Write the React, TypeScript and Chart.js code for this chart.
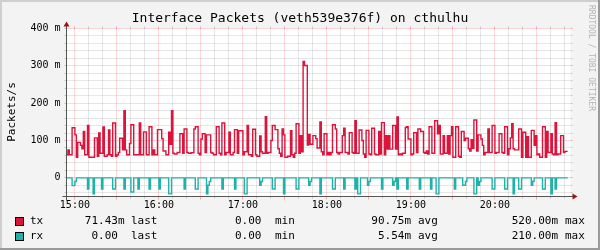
import React, { useEffect, useRef } from 'react';
import { Chart, registerables } from 'chart.js';

Chart.register(...registerables);

// ---- data ----
const titleText = 'Interface Packets (veth539e376f) on cthulhu';
const yAxisTitle = 'Packets/s';
const watermark = 'RRDTOOL / TOBI OETIKER';
const startTime = '14:54'; // first sample (1 minute steps)
const spanMinutes = 360;
const xTickLabels = ['15:00', '16:00', '17:00', '18:00', '19:00', '20:00'];
const yTickValues = [0, 100, 200, 300, 400];
const yTickLabels = ['0', '100 m', '200 m', '300 m', '400 m'];
const yMin = -50;
const yMax = 400;

// tx packets/s in milli units, one value per minute
const txValues = [
  62, 62, 75, 62, 62, 134, 134, 115, 55, 95,
  95, 87, 78, 124, 62, 62, 140, 55, 55, 55,
  55, 107, 107, 58, 120, 66, 66, 136, 58, 58,
  62, 128, 62, 58, 147, 147, 58, 62, 68, 106,
  106, 75, 180, 75, 62, 62, 92, 142, 142, 62,
  62, 62, 62, 147, 62, 62, 123, 123, 62, 62,
  137, 137, 62, 75, 62, 62, 129, 129, 129, 105,
  72, 72, 62, 62, 122, 90, 180, 66, 64, 64,
  68, 68, 118, 118, 66, 131, 131, 68, 66, 66,
  67, 67, 131, 137, 137, 66, 62, 104, 118, 118,
  68, 115, 115, 115, 68, 66, 62, 62, 137, 137,
  66, 62, 147, 147, 62, 68, 68, 122, 62, 62,
  68, 129, 129, 66, 126, 126, 126, 62, 70, 70,
  140, 62, 62, 58, 130, 130, 62, 58, 58, 112,
  70, 66, 66, 164, 66, 68, 68, 100, 140, 140,
  129, 129, 78, 66, 58, 131, 115, 55, 55, 58,
  58, 126, 62, 55, 66, 145, 145, 66, 113, 70,
  312, 301, 301, 88, 116, 90, 90, 113, 113, 105,
  80, 80, 150, 70, 62, 118, 118, 62, 68, 62,
  68, 142, 142, 131, 68, 64, 68, 68, 113, 133,
  68, 68, 64, 121, 121, 68, 66, 153, 66, 66,
  128, 128, 100, 64, 55, 127, 127, 64, 62, 133,
  133, 64, 62, 62, 124, 64, 148, 148, 62, 113,
  77, 113, 77, 77, 140, 140, 77, 163, 62, 64,
  62, 66, 66, 135, 137, 104, 104, 62, 64, 121,
  121, 68, 131, 131, 124, 124, 68, 66, 72, 64,
  137, 137, 66, 66, 153, 153, 118, 140, 64, 64,
  113, 66, 66, 113, 64, 113, 137, 55, 55, 137,
  137, 58, 55, 124, 124, 100, 106, 106, 78, 72,
  102, 79, 155, 155, 72, 115, 115, 104, 87, 62,
  68, 68, 131, 68, 68, 140, 140, 66, 68, 68,
  118, 118, 68, 66, 137, 137, 62, 78, 107, 145,
  78, 75, 75, 75, 131, 131, 55, 122, 122, 55,
  110, 55, 55, 127, 127, 87, 113, 62, 64, 55,
  55, 137, 137, 55, 124, 68, 68, 118, 64, 62,
  148, 62, 64, 64, 113, 113, 68, 71,
];

// rx packets/s in milli units (drawn mirrored below zero)
const rxValues = [
  0, 0, 0, 0, 0, 21, 21, 10, 0, 0,
  0, 0, 0, 0, 0, 0, 30, 0, 0, 0,
  43, 0, 0, 0, 0, 0, 30, 0, 0, 0,
  0, 0, 0, 0, 30, 30, 0, 0, 0, 0,
  0, 0, 30, 0, 0, 0, 0, 38, 38, 0,
  0, 0, 30, 0, 0, 0, 0, 0, 0, 0,
  30, 0, 0, 0, 0, 0, 0, 30, 0, 0,
  0, 0, 0, 0, 43, 43, 0, 0, 0, 0,
  0, 0, 0, 0, 0, 30, 0, 0, 0, 0,
  0, 0, 0, 30, 30, 0, 0, 0, 0, 0,
  0, 43, 20, 10, 0, 0, 0, 0, 0, 0,
  0, 0, 30, 0, 0, 0, 0, 0, 0, 0,
  0, 30, 0, 0, 0, 0, 0, 0, 43, 43,
  0, 0, 0, 0, 0, 0, 0, 0, 0, 20,
  10, 0, 0, 0, 0, 0, 0, 0, 30, 30,
  0, 0, 0, 0, 0, 0, 43, 0, 0, 0,
  0, 0, 0, 0, 0, 30, 30, 0, 0, 0,
  0, 0, 0, 0, 20, 10, 0, 0, 0, 0,
  0, 0, 43, 0, 0, 0, 0, 0, 0, 0,
  0, 30, 30, 0, 0, 0, 0, 0, 0, 30,
  0, 0, 0, 0, 0, 0, 0, 30, 0, 43,
  43, 0, 0, 0, 0, 0, 20, 10, 0, 0,
  0, 0, 0, 0, 0, 0, 30, 0, 0, 0,
  0, 0, 0, 0, 20, 10, 0, 30, 0, 0,
  0, 0, 0, 0, 30, 0, 0, 0, 0, 0,
  0, 0, 0, 30, 0, 0, 0, 0, 0, 0,
  0, 30, 0, 0, 0, 43, 43, 0, 0, 0,
  0, 0, 0, 0, 0, 0, 0, 0, 30, 0,
  0, 0, 0, 0, 20, 20, 10, 0, 0, 0,
  0, 0, 43, 43, 0, 20, 10, 0, 0, 0,
  0, 0, 0, 0, 0, 30, 30, 0, 0, 0,
  0, 0, 0, 0, 30, 30, 0, 0, 0, 0,
  43, 0, 0, 0, 30, 30, 0, 0, 0, 0,
  0, 0, 0, 20, 10, 0, 0, 0, 0, 0,
  0, 30, 30, 0, 0, 0, 0, 43, 0, 0,
  30, 0, 0, 0, 0, 0, 0, 0,
];

const seriesNames = ['tx', 'rx'];
const seriesColors = ['#dc143c', '#20b2aa'];
const statLast = ['71.43m', '0.00 '];
const statMin = ['0.00 ', '0.00 '];
const statAvg = ['90.75m', '5.54m'];
const statMax = ['520.00m', '210.00m'];
const statNames = ['last', 'min', 'avg', 'max'];

// ---- helpers ----
const toMin = (s: string) => {
  const [h, m] = s.split(':').map(Number);
  return h * 60 + m;
};
const START = toMin(startTime);
const END = START + spanMinutes;

const withEnd = (vals: number[], sign: number) => {
  const pts = vals.map((v, i) => ({ x: START + i, y: sign * v }));
  pts.push({ x: START + vals.length, y: sign * vals[vals.length - 1] });
  return pts;
};

const MONO = '"DejaVu Sans Mono", monospace';

const rrdPlugin = {
  id: 'rrdLook',
  beforeDraw(chart: any) {
    const { ctx, chartArea: a, scales } = chart;
    const xs = scales.x;
    const ys = scales.y;
    const W = chart.width;
    const H = chart.height;
    ctx.save();
    ctx.fillStyle = '#f3f3f3';
    ctx.fillRect(0, 0, W, H);
    ctx.fillStyle = '#cfcfcf';
    ctx.fillRect(0, 0, W, 2);
    ctx.fillRect(0, 0, 2, H);
    ctx.fillStyle = '#9a9a9a';
    ctx.fillRect(0, H - 2, W, 2);
    ctx.fillRect(W - 2, 0, 2, H);
    ctx.fillStyle = '#ffffff';
    ctx.fillRect(a.left, a.top, a.right - a.left, a.bottom - a.top);

    const snap = (p: number) => Math.round(p - 0.5) + 0.5;
    const minorCol = 'rgba(128,128,128,0.37)';
    const majorCol = 'rgba(255,0,0,0.3)';
    ctx.lineWidth = 1;

    // horizontal grid
    for (let v = -40; v <= yMax; v += 20) {
      const major = v % 100 === 0;
      const py = snap(ys.getPixelForValue(v));
      ctx.strokeStyle = major ? majorCol : minorCol;
      ctx.setLineDash([]);
      ctx.beginPath();
      ctx.moveTo(a.left - 2, py); ctx.lineTo(a.left, py);
      ctx.moveTo(a.right, py); ctx.lineTo(a.right + 2, py);
      ctx.stroke();
      ctx.setLineDash([1, 1]);
      ctx.beginPath();
      ctx.moveTo(a.left, py); ctx.lineTo(a.right, py);
      ctx.stroke();
    }
    // vertical grid
    for (let t = Math.ceil(START / 10) * 10; t <= END; t += 10) {
      const major = t % 30 === 0;
      const px = snap(xs.getPixelForValue(t));
      ctx.strokeStyle = major ? majorCol : minorCol;
      ctx.setLineDash([]);
      ctx.beginPath();
      ctx.moveTo(px, a.top - 2); ctx.lineTo(px, a.top);
      ctx.moveTo(px, a.bottom); ctx.lineTo(px, a.bottom + (major ? 3 : 2));
      ctx.stroke();
      ctx.setLineDash([1, 1]);
      ctx.beginPath();
      ctx.moveTo(px, a.top); ctx.lineTo(px, a.bottom);
      ctx.stroke();
    }
    ctx.restore();
  },
  afterDatasetsDraw(chart: any) {
    const { ctx, chartArea: a, scales } = chart;
    const xs = scales.x;
    const ys = scales.y;
    ctx.save();
    // axes
    ctx.strokeStyle = '#555555';
    ctx.lineWidth = 1;
    ctx.setLineDash([]);
    ctx.beginPath();
    ctx.moveTo(a.left - 4, a.bottom); ctx.lineTo(a.right + 4, a.bottom);
    ctx.moveTo(a.left, a.bottom + 4); ctx.lineTo(a.left, a.top - 4);
    ctx.stroke();
    // arrows
    ctx.fillStyle = '#a01010';
    ctx.beginPath();
    ctx.moveTo(a.right + 2, a.bottom - 3);
    ctx.lineTo(a.right + 2, a.bottom + 3);
    ctx.lineTo(a.right + 7, a.bottom);
    ctx.closePath();
    ctx.fill();
    ctx.beginPath();
    ctx.moveTo(a.left - 3, a.top - 2);
    ctx.lineTo(a.left + 3, a.top - 2);
    ctx.lineTo(a.left, a.top - 7);
    ctx.closePath();
    ctx.fill();

    ctx.fillStyle = '#000000';
    // y tick labels
    ctx.font = `10px ${MONO}`;
    ctx.textAlign = 'right';
    ctx.textBaseline = 'middle';
    yTickValues.forEach((v, i) => {
      ctx.fillText(yTickLabels[i], 60.5, ys.getPixelForValue(v));
    });
    // x tick labels
    ctx.textAlign = 'center';
    xTickLabels.forEach((lab) => {
      ctx.fillText(lab, xs.getPixelForValue(toMin(lab)), 205);
    });
    // title
    ctx.font = `13px ${MONO}`;
    ctx.fillText(titleText, 300, 19);
    // y title
    ctx.save();
    ctx.translate(12, 112);
    ctx.rotate(-Math.PI / 2);
    ctx.font = `11px ${MONO}`;
    ctx.fillText(yAxisTitle, 0, 0);
    ctx.restore();
    // watermark
    ctx.save();
    ctx.translate(591, 5);
    ctx.rotate(Math.PI / 2);
    ctx.font = `8px ${MONO}`;
    ctx.fillStyle = 'rgba(128,128,128,0.55)';
    ctx.textAlign = 'left';
    ctx.fillText(watermark, 0, 0);
    ctx.restore();

    // legend
    const rowsY = [221.5, 236.5];
    ctx.font = `11px ${MONO}`;
    seriesNames.forEach((name, i) => {
      const cy = rowsY[i];
      const top = Math.round(cy - 4.5);
      ctx.fillStyle = seriesColors[i];
      ctx.fillRect(15, top, 9, 9);
      ctx.strokeStyle = '#000000';
      ctx.strokeRect(15.5, top + 0.5, 8, 8);
      ctx.fillStyle = '#000000';
      ctx.textAlign = 'left';
      ctx.fillText(name, 30, cy);
      ctx.textAlign = 'right';
      ctx.fillText(statLast[i], 124.5, cy);
      ctx.fillText(statMin[i], 268, cy);
      ctx.fillText(statAvg[i], 411, cy);
      ctx.fillText(statMax[i], 558, cy);
      ctx.textAlign = 'left';
      ctx.fillText(statNames[0], 131, cy);
      ctx.fillText(statNames[1], 275, cy);
      ctx.fillText(statNames[2], 418, cy);
      ctx.fillText(statNames[3], 565, cy);
    });
    ctx.restore();
  },
};

export default function App() {
  const ref = useRef<HTMLCanvasElement>(null);
  useEffect(() => {
    const chart = new Chart(ref.current as HTMLCanvasElement, {
      type: 'line',
      data: {
        datasets: [
          {
            label: seriesNames[0],
            data: withEnd(txValues, 1),
            borderColor: seriesColors[0],
            borderWidth: 1.4,
            stepped: 'after',
            pointRadius: 0,
            fill: false,
          },
          {
            label: seriesNames[1],
            data: withEnd(rxValues, -1),
            borderColor: seriesColors[1],
            borderWidth: 1.4,
            stepped: 'after',
            pointRadius: 0,
            fill: false,
          },
        ],
      },
      options: {
        animation: false,
        responsive: false,
        devicePixelRatio: 1,
        events: [],
        layout: { padding: { left: 66.5, right: 29.5, top: 28.5, bottom: 53.5 } },
        scales: {
          x: { type: 'linear', min: START, max: END, display: false },
          y: { type: 'linear', min: yMin, max: yMax, display: false },
        },
        plugins: {
          legend: { display: false },
          tooltip: { enabled: false },
          title: { display: false },
        },
      } as any,
      plugins: [rrdPlugin],
    });
    return () => chart.destroy();
  }, []);
  return (
    <div style={{ position: 'fixed', left: 0, top: 0, width: 600, height: 250 }}>
      <canvas ref={ref} width={600} height={250} style={{ display: 'block', width: 600, height: 250 }} />
    </div>
  );
}
